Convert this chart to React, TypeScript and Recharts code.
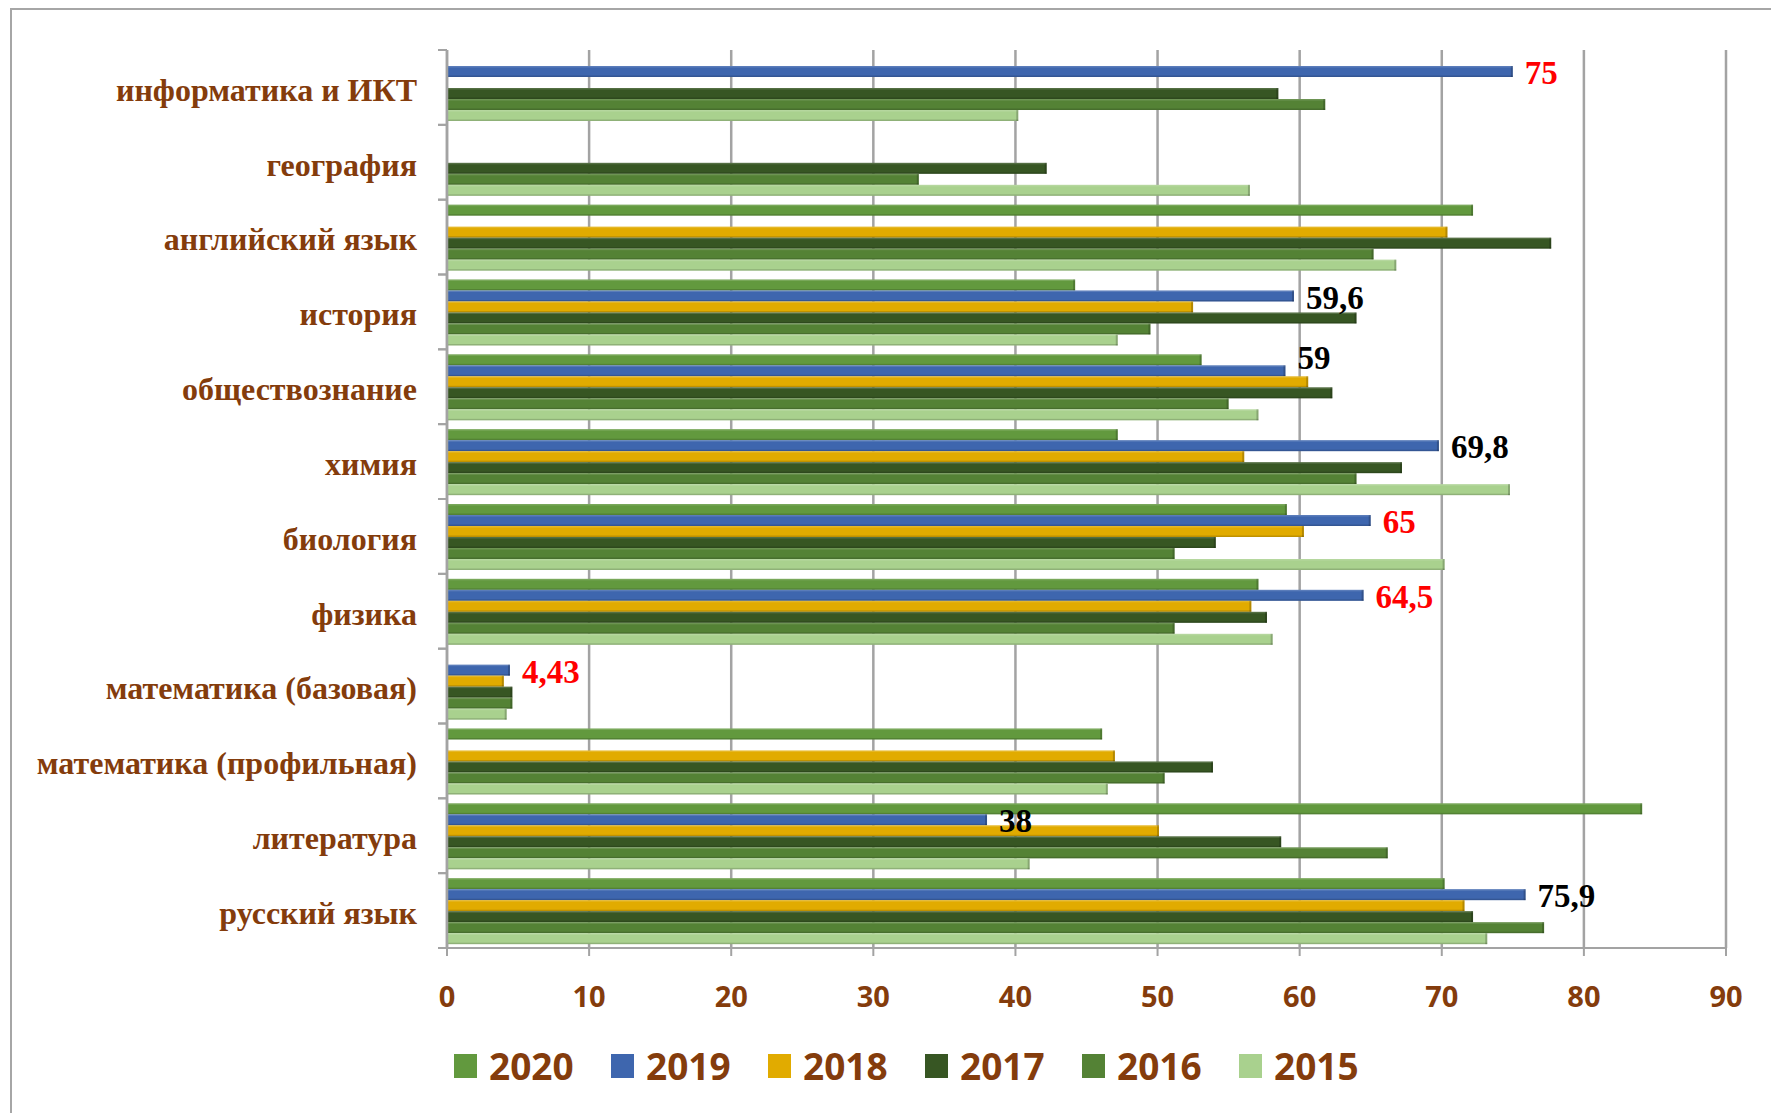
import { BarChart, Bar, XAxis, YAxis, CartesianGrid, LabelList } from 'recharts';

const categories = [
  'информатика и ИКТ',
  'география',
  'английский язык',
  'история',
  'обществознание',
  'химия',
  'биология',
  'физика',
  'математика (базовая)',
  'математика (профильная)',
  'литература',
  'русский язык',
];

const v2020 = [null, null, 72.2, 44.2, 53.1, 47.2, 59.1, 57.1, null, 46.1, 84.1, 70.2];
const v2019 = [75, null, null, 59.6, 59, 69.8, 65, 64.5, 4.43, null, 38, 75.9];
const v2018 = [null, null, 70.4, 52.5, 60.6, 56.1, 60.3, 56.6, 4.0, 47, 50.1, 71.6];
const v2017 = [58.5, 42.2, 77.7, 64, 62.3, 67.2, 54.1, 57.7, 4.6, 53.9, 58.7, 72.2];
const v2016 = [61.8, 33.2, 65.2, 49.5, 55, 64, 51.2, 51.2, 4.6, 50.5, 66.2, 77.2];
const v2015 = [40.2, 56.5, 66.8, 47.2, 57.1, 74.8, 70.2, 58.1, 4.2, 46.5, 41, 73.2];

// labels shown on the 2019 bars
const labels2019 = ['75', '', '', '59,6', '59', '69,8', '65', '64,5', '4,43', '', '38', '75,9'];
const redLabelled = ['информатика и ИКТ', 'биология', 'физика', 'математика (базовая)'];
const raisedLabelled = ['обществознание'];
const redTexts = labels2019.filter((_, i) => redLabelled.includes(categories[i]));
const raisedTexts = labels2019.filter((_, i) => raisedLabelled.includes(categories[i]));

const xTicks = [0, 10, 20, 30, 40, 50, 60, 70, 80, 90];

const series = [
  { key: 'y2020', name: '2020', values: v2020, color: '#62993E' },
  { key: 'y2019', name: '2019', values: v2019, color: '#3E66AE' },
  { key: 'y2018', name: '2018', values: v2018, color: '#E1AB00' },
  { key: 'y2017', name: '2017', values: v2017, color: '#375623' },
  { key: 'y2016', name: '2016', values: v2016, color: '#548235' },
  { key: 'y2015', name: '2015', values: v2015, color: '#A9D18E' },
];

const data = categories.map((name, i) => {
  const row: Record<string, any> = { name, label: labels2019[i] || null };
  series.forEach((s) => {
    row[s.key] = s.values[i];
  });
  return row;
});

const BROWN = '#843C0C';
const GRID = '#a3a3a3';
const PLOT_TOP = 50;
const PLOT_BOTTOM = 1113 - 95 - 70;
const BAND = (PLOT_BOTTOM - PLOT_TOP) / categories.length;

const Bar3D = (props: any) => {
  const { x, y, width, height, fill } = props;
  if (!width || width <= 0) return null;
  return (
    <g>
      <rect x={x} y={y} width={width} height={height} fill={fill} />
      <rect x={x} y={y} width={width} height={1.5} fill="#fff" opacity={0.15} />
      <rect x={x} y={y + height - 1.5} width={width} height={1.5} fill="#000" opacity={0.15} />
      <rect x={x + width - 2} y={y} width={2} height={height} fill="#000" opacity={0.2} />
    </g>
  );
};

const ValueLabel = (props: any) => {
  const { x, y, width, height, value } = props;
  if (!value) return null;
  const red = redTexts.includes(String(value));
  const raised = raisedTexts.includes(String(value));
  return (
    <text
      x={x + width + 12}
      y={y + height / 2 + (raised ? -9 : 5)}
      dominantBaseline="middle"
      fontFamily="'Liberation Serif', 'Times New Roman', serif"
      fontWeight="bold"
      fontSize={33}
      fill={red ? '#FF0000' : '#000'}
    >
      {value}
    </text>
  );
};

const CategoryTick = (props: any) => {
  const { x, y, payload } = props;
  return (
    <g>
      <line x1={x + 21} x2={x + 30} y1={y - BAND / 2} y2={y - BAND / 2} stroke={GRID} strokeWidth={2} />
      <line x1={x + 21} x2={x + 30} y1={y + BAND / 2} y2={y + BAND / 2} stroke={GRID} strokeWidth={2} />
      <text
        x={x}
        y={y + 6}
        textAnchor="end"
        dominantBaseline="middle"
        fill={BROWN}
        fontSize={32}
        fontWeight="bold"
        fontFamily="'Liberation Serif', 'Times New Roman', serif"
      >
        {payload.value}
      </text>
    </g>
  );
};

const LegendRow = () => (
  <div style={{ position: 'absolute', left: 454, top: 1047, display: 'flex', alignItems: 'center' }}>
    {series.map((s) => (
      <div key={s.key} style={{ display: 'flex', alignItems: 'center', width: 157 }}>
        <div style={{ width: 23, height: 24, background: s.color, marginRight: 12 }} />
        <span
          style={{
            fontFamily: "'Open Sans', sans-serif",
            fontWeight: 'bold',
            fontSize: 37,
            color: BROWN,
            lineHeight: 1,
          }}
        >
          {s.name}
        </span>
      </div>
    ))}
  </div>
);

export default function App() {
  return (
    <div style={{ position: 'absolute', left: 0, top: 0, width: 1771, height: 1113, background: '#fff' }}>
      <div
        style={{
          position: 'absolute',
          left: 10,
          top: 8,
          width: 1761,
          height: 1105,
          borderLeft: '2px solid #a6a6a6',
          borderTop: '2px solid #a6a6a6',
        }}
      />
      <div style={{ position: 'absolute', left: 0, top: 0 }}>
        <BarChart
          width={1771}
          height={1113}
          data={data}
          layout="vertical"
          margin={{ top: PLOT_TOP, right: 45, left: 0, bottom: 95 }}
          barCategoryGap={5}
          barGap={0}
        >
          <CartesianGrid horizontal={false} stroke={GRID} strokeWidth={2.5} />
          <XAxis
            type="number"
            domain={[0, 90]}
            ticks={xTicks}
            interval={0}
            height={70}
            axisLine={{ stroke: GRID, strokeWidth: 2 }}
            tickLine={{ stroke: GRID, strokeWidth: 2 }}
            tickSize={8}
            tickMargin={30}
            tick={{ fill: BROWN, fontSize: 29, fontWeight: 'bold', fontFamily: "'Open Sans', sans-serif" }}
          />
          <YAxis
            type="category"
            dataKey="name"
            width={447}
            interval={0}
            axisLine={{ stroke: GRID, strokeWidth: 2.5 }}
            tickLine={false}
            tickSize={0}
            tickMargin={30}
            tick={<CategoryTick />}
          />
          {series.map((s) => (
            <Bar key={s.key} dataKey={s.key} name={s.name} fill={s.color} isAnimationActive={false} shape={<Bar3D />}>
              {s.key === 'y2019' && <LabelList dataKey="label" content={<ValueLabel />} />}
            </Bar>
          ))}
        </BarChart>
      </div>
      <LegendRow />
    </div>
  );
}
